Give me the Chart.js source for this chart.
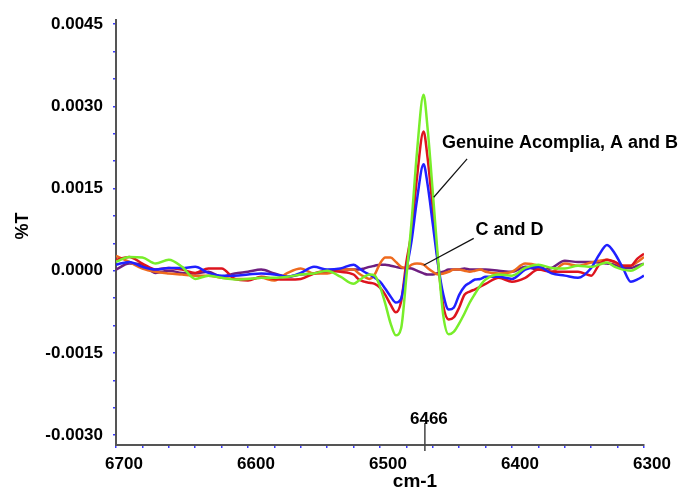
<!DOCTYPE html>
<html>
<head>
<meta charset="utf-8">
<script src="https://cdn.jsdelivr.net/npm/chart.js@4"></script>
<style>
html,body{margin:0;padding:0;background:#fff;}
#wrap{width:680px;height:489px;position:relative;}
</style>
</head>
<body>
<div id="wrap"><canvas id="c" width="680" height="489"></canvas></div>
<script>
// ---- data (wavenumber in cm-1, values in %T) ----
const wavenumbers = [6700,6690,6680,6670,6660,6650,6640,6630,6620,6610,6600,6590,6580,6570,6560,6550,6540,6530,6520,
  6516,6512,6508,6504,6500,6496,6492,6488,6484,6480,6476,6472,6467,6464,6460,6456,6452,6448,6444,6440,6436,6432,6428,6424,6420,
  6410,6400,6390,6380,6370,6360,6350,6340,
  6334,6328,6322,6316,6310,6305,6300];

const genuine = [0.00016,0.00025,0.00024,0.00013,0.00020,0.00007,-0.00015,-0.00009,-0.00013,-0.00016,-0.00015,-0.00013,-0.00013,-0.00011,-0.00007,-0.00005,0.00000,-0.00011,-0.00024,
  -0.00018,-0.00011,-0.00007,-0.00009,-0.00029,-0.00060,-0.00096,-0.00118,-0.00105,-0.00011,0.00092,0.00216,0.00321,0.00261,0.00143,0.00020,-0.00083,-0.00116,-0.00111,-0.00096,-0.00078,-0.00058,-0.00042,-0.00027,-0.00016,
  -0.00007,-0.00009,0.00005,0.00011,0.00005,0.00004,0.00009,0.00007,
  0.00011,0.00015,0.00007,0.00002,0.00000,0.00005,0.00013];

const sampleA = [0.00020,0.00025,0.00013,0.00002,0.00005,0.00002,-0.00004,0.00004,0.00004,-0.00015,-0.00018,-0.00011,-0.00015,-0.00016,-0.00015,-0.00005,0.00000,-0.00002,-0.00007,
  -0.00016,-0.00020,-0.00022,-0.00024,-0.00031,-0.00044,-0.00062,-0.00076,-0.00056,0.00016,0.00073,0.00170,0.00254,0.00207,0.00112,0.00013,-0.00065,-0.00089,-0.00085,-0.00067,-0.00044,-0.00038,-0.00034,-0.00029,-0.00024,
  -0.00013,-0.00020,-0.00013,0.00002,-0.00002,-0.00002,-0.00002,-0.00009,
  0.00011,0.00020,0.00016,0.00009,0.00009,0.00022,0.00031];

const sampleB = [0.00011,0.00016,0.00007,0.00002,0.00005,0.00005,0.00007,-0.00004,-0.00009,-0.00009,-0.00007,-0.00005,-0.00007,-0.00011,-0.00004,0.00007,0.00002,0.00004,0.00011,
  0.00005,-0.00002,-0.00007,-0.00013,-0.00020,-0.00033,-0.00047,-0.00058,-0.00051,0.00002,0.00056,0.00129,0.00194,0.00158,0.00085,0.00011,-0.00044,-0.00071,-0.00067,-0.00044,-0.00029,-0.00022,-0.00016,-0.00015,-0.00011,
  -0.00011,-0.00015,0.00002,0.00007,-0.00005,-0.00009,-0.00013,0.00005,
  0.00029,0.00047,0.00031,0.00005,-0.00020,-0.00016,-0.00009];

const sampleC = [0.00027,0.00016,0.00004,-0.00002,-0.00005,-0.00007,-0.00009,-0.00009,-0.00013,-0.00015,-0.00015,-0.00013,-0.00018,-0.00004,0.00004,-0.00005,-0.00005,0.00002,0.00002,
  -0.00005,-0.00011,-0.00015,-0.00007,0.00013,0.00024,0.00024,0.00016,0.00007,0.00005,0.00011,0.00013,0.00011,0.00005,-0.00002,-0.00007,-0.00005,-0.00002,0.00002,0.00002,0.00000,-0.00002,0.00000,0.00002,-0.00002,
  -0.00005,-0.00002,0.00013,0.00009,-0.00002,0.00013,0.00009,0.00015,
  0.00018,0.00020,0.00015,0.00009,0.00009,0.00016,0.00025];

const sampleD = [0.00002,0.00013,0.00011,-0.00004,0.00000,-0.00004,-0.00005,-0.00002,-0.00011,-0.00005,-0.00002,0.00002,-0.00005,-0.00011,-0.00007,-0.00005,-0.00002,0.00002,0.00002,
  0.00002,0.00004,0.00007,0.00009,0.00011,0.00011,0.00009,0.00007,0.00005,0.00005,0.00004,0.00000,-0.00005,-0.00007,-0.00007,-0.00004,-0.00002,0.00002,0.00002,0.00002,0.00004,0.00002,0.00002,0.00002,0.00002,
  0.00000,-0.00002,0.00007,0.00002,0.00005,0.00018,0.00016,0.00016,
  0.00015,0.00013,0.00011,0.00005,0.00005,0.00009,0.00013];

const xTickLabels = [6700, 6600, 6500, 6400, 6300];
const yTickLabels = ['0.0045', '0.0030', '0.0015', '0.0000', '-0.0015', '-0.0030'];
const markerWavenumber = 6466;
const annotations = [
  {text: 'Genuine Acomplia, A and B', textX: 6453, textY: 0.00232, from: [6434, 0.00204], to: [6459.3, 0.00134]},
  {text: 'C and D', textX: 6427.7, textY: 0.00074, from: [6429, 0.00059], to: [6466.9, 0.00010]}
];

const series = [
  {label: 'Genuine Acomplia', values: genuine, color: '#78EE2A'},
  {label: 'B', values: sampleB, color: '#2020FF'},
  {label: 'A', values: sampleA, color: '#DD141E'},
  {label: 'C', values: sampleC, color: '#EE6A1E'},
  {label: 'D', values: sampleD, color: '#6E1E80'}
];

const FONT = "'Liberation Sans', Arial, sans-serif";

const overlay = {
  id: 'overlay',
  afterDraw(chart) {
    const ctx = chart.ctx, xs = chart.scales.x, ys = chart.scales.y;
    ctx.save();
    ctx.fillStyle = '#000';
    // axis titles
    ctx.font = 'bold 18px ' + FONT;
    ctx.textAlign = 'center'; ctx.textBaseline = 'middle';
    ctx.save();
    ctx.translate(23, 226);
    ctx.rotate(-Math.PI / 2);
    ctx.fillText('%T', 0, 0);
    ctx.restore();
    ctx.font = 'bold 19px ' + FONT;
    ctx.fillText('cm-1', 415, 482);
    // 6466 marker
    const mx = xs.getPixelForValue(markerWavenumber);
    ctx.strokeStyle = '#444'; ctx.lineWidth = 1.5;
    ctx.beginPath(); ctx.moveTo(mx, chart.chartArea.bottom - 22); ctx.lineTo(mx, chart.chartArea.bottom + 6); ctx.stroke();
    ctx.font = 'bold 17px ' + FONT;
    ctx.textBaseline = 'alphabetic';
    ctx.fillText(String(markerWavenumber), mx + 4, chart.chartArea.bottom - 21);
    // annotations
    ctx.font = 'bold 18px ' + FONT;
    ctx.textAlign = 'left'; ctx.textBaseline = 'middle';
    ctx.strokeStyle = '#111'; ctx.lineWidth = 1.2;
    annotations.forEach(a => {
      ctx.fillText(a.text, xs.getPixelForValue(a.textX), ys.getPixelForValue(a.textY));
      ctx.beginPath();
      ctx.moveTo(xs.getPixelForValue(a.from[0]), ys.getPixelForValue(a.from[1]));
      ctx.lineTo(xs.getPixelForValue(a.to[0]), ys.getPixelForValue(a.to[1]));
      ctx.stroke();
    });
    ctx.restore();
  }
};

new Chart(document.getElementById('c'), {
  type: 'line',
  data: {
    datasets: series.map(s => ({
      label: s.label,
      data: wavenumbers.map((w, i) => ({x: w, y: s.values[i]})),
      borderColor: s.color,
      borderWidth: 2.5,
      pointRadius: 0,
      fill: false,
      cubicInterpolationMode: 'monotone'
    }))
  },
  options: {
    responsive: false,
    animation: false,
    events: [],
    layout: {padding: {top: 13, right: 36, left: 0, bottom: 0}},
    plugins: {legend: {display: false}, tooltip: {enabled: false}},
    scales: {
      x: {
        type: 'linear', reverse: true, min: 6300, max: 6700,
        afterFit(scale) { scale.height = 44; },
        grid: {drawOnChartArea: false, drawTicks: true, tickLength: 3, color: '#3a3aff', lineWidth: 1.5},
        border: {display: true, color: '#555', width: 2},
        ticks: {
          stepSize: 20, autoSkip: false, maxRotation: 0, includeBounds: false,
          padding: 6, labelOffset: 8, color: '#000',
          font: {family: FONT, size: 17, weight: 'bold'},
          callback: v => xTickLabels.includes(Math.round(v)) && Math.abs(v - Math.round(v)) < 1e-6 ? String(Math.round(v)) : ''
        }
      },
      y: {
        type: 'linear', min: -0.00318, max: 0.00457,
        afterFit(scale) { scale.width = 116; },
        grid: {drawOnChartArea: false, drawTicks: true, tickLength: 3, color: '#3a3aff', lineWidth: 1.5},
        border: {display: true, color: '#555', width: 2},
        ticks: {
          stepSize: 0.0005, autoSkip: false, includeBounds: false,
          padding: 10, color: '#000',
          font: {family: FONT, size: 17, weight: 'bold'},
          callback: v => {
            const lbl = yTickLabels.find(t => Math.abs(parseFloat(t) - v) < 1e-8);
            return lbl !== undefined ? lbl : '';
          }
        }
      }
    }
  },
  plugins: [overlay]
});
</script>
</body>
</html>
